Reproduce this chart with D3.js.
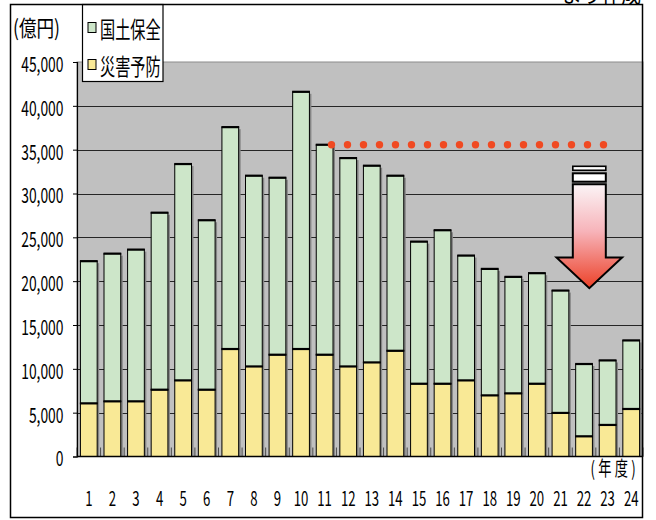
<!DOCTYPE html>
<html>
<head>
<meta charset="utf-8">
<script src="https://cdn.jsdelivr.net/npm/d3@7"></script>
<style>
  html, body { margin: 0; padding: 0; background: #fff; }
  svg text { font-family: "Noto Sans CJK JP", "Noto Sans", sans-serif; fill: #000; }
</style>
</head>
<body>
<svg id="chart" width="656" height="520"></svg>
<script>
// Fiscal years (1–24) and budget split, in 100-million yen (億円)
const years = ["1","2","3","4","5","6","7","8","9","10","11","12",
               "13","14","15","16","17","18","19","20","21","22","23","24"];
const disasterPrevention = [6060, 6290, 6290, 7620, 8680, 7620, 12260, 10270, 11610, 12260, 11610, 10270,
                            10730, 12060, 8300, 8300, 8680, 6970, 7200, 8300, 4970, 2300, 3600, 5420];
const landConservation = [16220, 16850, 17310, 20190, 24680, 19330, 25310, 21760, 20190, 29340, 23950, 23770,
                          22440, 19970, 16210, 17510, 14240, 14430, 13290, 12610, 13960, 8250, 7360, 7820];
const yTicks = [0, 5000, 10000, 15000, 20000, 25000, 30000, 35000, 40000, 45000];
const seriesNames = ["国土保全", "災害予防"];
const colors = { land: "#cde6c9", disaster: "#f9e996", plot: "#c0c0c0" };

const svg = d3.select("#chart");
const plot = { left: 77, right: 643, top: 62, bottom: 456.5 };
const SX = 0.66; // horizontal squeeze of the narrow gothic lettering

const x = d3.scaleBand().domain(years).range([plot.left, plot.right])
  .paddingInner(0.29).paddingOuter(0.145);
const y = d3.scaleLinear().domain([0, 45000]).range([plot.bottom, plot.top]);
const bw = x.bandwidth();

const totals = years.map((_, i) => disasterPrevention[i] + landConservation[i]);

// squeezed text helper
function label(parent, px, py, str, size, anchor, sx) {
  return parent.append("text")
    .attr("transform", `translate(${px},${py}) scale(${sx || SX},1)`)
    .attr("text-anchor", anchor || "start")
    .attr("dominant-baseline", "central")
    .style("font-size", size + "px")
    .text(str);
}

// page background
svg.append("rect").attr("width", 656).attr("height", 520).attr("fill", "#fff");

// plot background
svg.append("rect")
  .attr("x", plot.left).attr("y", plot.top)
  .attr("width", plot.right - plot.left).attr("height", plot.bottom - plot.top)
  .attr("fill", colors.plot).attr("stroke", "#8c8c8c").attr("stroke-width", 1);

// horizontal gridlines
svg.append("g").selectAll("line").data(yTicks.filter(d => d > 0 && d < 45000)).join("line")
  .attr("x1", plot.left).attr("x2", plot.right)
  .attr("y1", d => Math.round(y(d)) + 0.5).attr("y2", d => Math.round(y(d)) + 0.5)
  .attr("stroke", "#262626").attr("stroke-width", 1.2);

// category boundary ticks along the base
svg.append("g").selectAll("line").data(d3.range(years.length + 1)).join("line")
  .attr("x1", i => plot.left + i * x.step()).attr("x2", i => plot.left + i * x.step())
  .attr("y1", plot.bottom).attr("y2", plot.bottom - 9)
  .attr("stroke", "#4a4a4a").attr("stroke-width", 1);

// stacked bars
const stacks = years.map((yr, i) => ({
  yr,
  segs: [
    { key: "disaster", y0: 0, y1: disasterPrevention[i] },
    { key: "land", y0: disasterPrevention[i], y1: totals[i] }
  ]
}));

const barG = svg.append("g");
// drop shadow
barG.selectAll("rect.shadow").data(stacks).join("rect")
  .attr("class", "shadow")
  .attr("x", d => x(d.yr) + 2).attr("y", (d, i) => y(totals[i]) + 2)
  .attr("width", bw).attr("height", (d, i) => plot.bottom - y(totals[i]) - 2)
  .attr("fill", "#858585");

const segs = stacks.flatMap(s => s.segs.map(g => ({ ...g, yr: s.yr })));
barG.selectAll("rect.seg").data(segs).join("rect")
  .attr("class", "seg")
  .attr("x", d => x(d.yr)).attr("y", d => y(d.y1))
  .attr("width", bw).attr("height", d => y(d.y0) - y(d.y1))
  .attr("fill", d => colors[d.key]).attr("stroke", "#000").attr("stroke-width", 1);
// heavier top edge on each segment
barG.selectAll("line.top").data(segs).join("line")
  .attr("class", "top")
  .attr("x1", d => x(d.yr) - 0.5).attr("x2", d => x(d.yr) + bw + 0.5)
  .attr("y1", d => y(d.y1)).attr("y2", d => y(d.y1))
  .attr("stroke", "#000").attr("stroke-width", 2.2);

// y axis
const yAxis = svg.append("g").attr("transform", `translate(${plot.left},0)`)
  .call(d3.axisLeft(y).tickValues(yTicks).tickFormat(d3.format(",")).tickSize(4).tickPadding(0));
yAxis.select(".domain").attr("stroke", "#000").attr("stroke-width", 1.2);
yAxis.selectAll(".tick line").attr("stroke", "#000");
yAxis.selectAll(".tick text")
  .attr("x", -13.5 / SX).attr("dy", null)
  .attr("dominant-baseline", "central")
  .attr("transform", `scale(${SX},1)`)
  .style("font-family", '"Noto Sans CJK JP", sans-serif')
  .style("font-size", "21px").attr("fill", "#000");

// x axis line
svg.append("line").attr("x1", plot.left).attr("x2", plot.right)
  .attr("y1", plot.bottom).attr("y2", plot.bottom)
  .attr("stroke", "#000").attr("stroke-width", 1.5);

// x axis labels
const xAxis = svg.append("g").attr("transform", "translate(0,497)")
  .call(d3.axisBottom(x).tickSize(0).tickPadding(0));
xAxis.select(".domain").remove();
xAxis.selectAll(".tick text")
  .attr("y", 0).attr("dy", null)
  .attr("dominant-baseline", "central")
  .attr("transform", `scale(${SX},1)`)
  .style("font-family", '"Noto Sans CJK JP", sans-serif')
  .style("font-size", "20px").attr("fill", "#000");

// reference level: year-11 total carried forward as a dotted line
const refLevel = totals[years.indexOf("11")];
const dotStart = x("11") + bw - 1.5;
const dotXs = d3.range(18).map(i => dotStart + i * 16);
svg.append("g").selectAll("circle").data(dotXs).join("circle")
  .attr("cx", d => d).attr("cy", y(refLevel))
  .attr("r", 3.7).attr("fill", "#f04a22");

// downward arrow annotation
const defs = svg.append("defs");
const grad = defs.append("linearGradient").attr("id", "arrowGrad")
  .attr("x1", 0).attr("y1", 0).attr("x2", 0).attr("y2", 1);
grad.append("stop").attr("offset", "0%").attr("stop-color", "#fbf4f6");
grad.append("stop").attr("offset", "45%").attr("stop-color", "#f7b4ba");
grad.append("stop").attr("offset", "100%").attr("stop-color", "#ec4128");

const ax = x("22") + bw - 3.1;  // arrow centre
const aTop = y(31050), aNeck = y(22700), aTip = y(19200);
const half = 16.5, headHalf = 32.8;
const arrowG = svg.append("g").attr("stroke", "#000").attr("stroke-width", 2);
arrowG.append("rect").attr("x", ax - half).attr("y", aTop - 18)
  .attr("width", half * 2).attr("height", 4).attr("fill", "#fff").attr("stroke-width", 1.6);
arrowG.append("rect").attr("x", ax - half).attr("y", aTop - 11)
  .attr("width", half * 2).attr("height", 8.4).attr("fill", "#fff");
arrowG.append("path")
  .attr("d", `M${ax - half},${aTop} L${ax + half},${aTop} L${ax + half},${aNeck} L${ax + headHalf},${aNeck}
              L${ax},${aTip} L${ax - headHalf},${aNeck} L${ax - half},${aNeck} Z`)
  .attr("fill", "url(#arrowGrad)").attr("stroke-linejoin", "miter");

// legend
const legend = svg.append("g");
legend.append("rect").attr("x", 82.5).attr("y", 4.5).attr("width", 80.5).attr("height", 77)
  .attr("fill", "#fff").attr("stroke", "#000").attr("stroke-width", 1.2);
const legendItems = [
  { name: seriesNames[0], color: colors.land, cy: 27.5 },
  { name: seriesNames[1], color: colors.disaster, cy: 64.5 }
];
legendItems.forEach(it => {
  legend.append("rect").attr("x", 88).attr("y", it.cy - 5).attr("width", 8).attr("height", 10)
    .attr("fill", it.color).attr("stroke", "#000").attr("stroke-width", 1);
  label(legend, 100, it.cy, it.name, 23, "start");
});

// unit and axis titles
label(svg, 13, 27, "(億円)", 22, "start", 0.8);
label(svg, 639, 467, "(年度)", 20, "end", 0.66).attr("letter-spacing", "5px");

// source note clipped at the page top
label(svg, 641, -7, "より作成", 22, "end", 0.9);

// outer frame
svg.append("rect").attr("x", 10.5).attr("y", 4.5).attr("width", 632).attr("height", 513)
  .attr("fill", "none").attr("stroke", "#000").attr("stroke-width", 1.5);
</script>
</body>
</html>
